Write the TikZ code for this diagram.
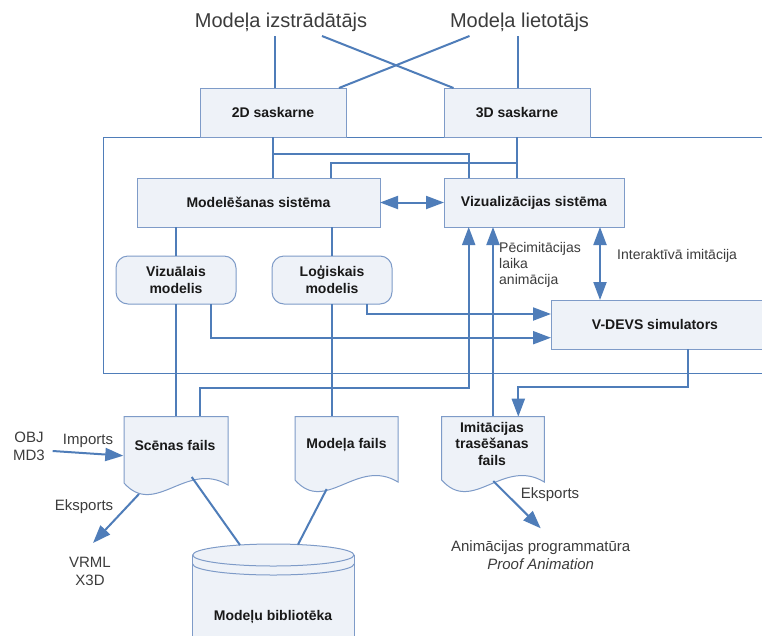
\documentclass[tikz,border=0pt]{standalone}
\usepackage{fontspec}
\setmainfont{Liberation Sans}
\usetikzlibrary{arrows.meta,calc}

\definecolor{linec}{RGB}{79,125,185}
\definecolor{boxline}{RGB}{126,155,200}
\definecolor{boxfill}{RGB}{238,242,248}
\definecolor{labelc}{RGB}{60,60,60}

% document symbol: left x, width, top, left bottom, right bottom
\newcommand\mydoc[5]{%
  \filldraw[docshape] (#1,#3) -- ({#1+#2},#3) -- ({#1+#2},#5)
    .. controls ({#1+0.6*#2},{#5-25}) and ({#1+0.3*#2},{#4+35}) .. (#1,#4) -- cycle;}

\begin{document}
\begin{tikzpicture}[x=1pt,y=-1pt,
  conn/.style={draw=linec,line width=2pt},
  arr/.style={conn,-{Triangle[length=18pt,width=13pt]}},
  dblarr/.style={conn,{Triangle[length=18pt,width=13pt]}-{Triangle[length=18pt,width=13pt]}},
  box/.style={draw=boxline,fill=boxfill,line width=1pt,inner sep=0pt,outer sep=0pt,
    align=center,font=\bfseries\fontsize{14}{17}\selectfont,text=black!90},
  rbox/.style={box,rounded corners=12pt},
  docshape/.style={draw=boxline,fill=boxfill,line width=1pt},
  docarea/.style={inner sep=0pt,outer sep=0pt},
  doctext/.style={align=center,inner sep=0pt,font=\bfseries\fontsize{14}{16.5}\selectfont,text=black!90},
  actor/.style={text=labelc,inner sep=0pt,font=\fontsize{20}{24}\selectfont},
  lbl/.style={text=labelc,inner sep=0pt,align=center,font=\fontsize{15}{18}\selectfont},
  slbl/.style={text=labelc,inner sep=0pt,align=left,font=\fontsize{14}{16}\selectfont},
]
\useasboundingbox[fill=white] (0,0) rectangle (762,635);

% system frame (open to the right)
\draw[draw=linec,line width=1pt] (770,137) -- (103,137) -- (103,373) -- (770,373);

% actors
\node[actor] (dev) at (281,22) {Modeļa izstrādātājs};
\node[actor] (usr) at (519.5,22) {Modeļa lietotājs};

% boxes
\node[box,minimum width=146pt,minimum height=49pt] (s2d) at (273,112.5) {2D saskarne};
\node[box,minimum width=146pt,minimum height=49pt] (s3d) at (517,112.5) {3D saskarne};
\node[box,minimum width=243pt,minimum height=49pt] (ms) at (258.5,202.5) {Modelēšanas sistēma};
\node[box,minimum width=180pt,minimum height=49pt] (vs) at (534,202.5) {Vizualizācijas sistēma};
\node[rbox,minimum width=120pt,minimum height=48pt] (vm) at (176,280) {Vizuālais\\modelis};
\node[rbox,minimum width=120pt,minimum height=48pt] (lm) at (332,280) {Loģiskais\\modelis};
\node[box,minimum width=214pt,minimum height=49pt] (sim) at (658,324.5) {\hspace*{-6pt}V-DEVS simulators};

% areas of the document symbols
\node[docarea,minimum width=104pt,minimum height=66.3pt] (sfbox) at (176,449.85) {};
\node[docarea,minimum width=103pt,minimum height=63.3pt] (mfbox) at (346.5,448.35) {};
\node[docarea,minimum width=102.6pt,minimum height=63.3pt] (tfbox) at (493,448.35) {};

% actor links
\coordinate (devA) at (275,36);
\coordinate (devB) at (322,36);
\coordinate (usrA) at (469.5,36);
\coordinate (usrB) at (518,36);
\draw[conn] (devA) -- (devA |- s2d.north);
\draw[conn] (devB) -- ($(s3d.north west)+(9.5,0)$);
\draw[conn] (usrA) -- ($(s2d.north east)+(-7,0)$);
\draw[conn] (usrB) -- (usrB |- s3d.north);

% interfaces to systems
\draw[conn] (s2d.south) -- (s2d.south |- ms.north);
\draw[conn] ($(s2d.south)+(0,17)$) -| ($(vs.north west)+(24.7,0)$);
\draw[conn] (s3d.south) -- (s3d.south |- vs.north);
\draw[conn] ($(s3d.south)+(0,26)$) -| ($(ms.north west)+(193.6,0)$);
\draw[dblarr] (ms.east) -- (vs.west);

% models
\draw[conn] (vm.north |- ms.south) -- (vm.north);
\draw[conn] (vm.south) -- (vm.south |- sfbox.north);
\draw[conn] (lm.north |- ms.south) -- (lm.north);
\draw[conn] (lm.south) -- (lm.south |- mfbox.north);
\draw[arr] ($(lm.south west)+(95,0)$) |- ($(sim.west)+(0,-10.5)$);
\draw[arr] ($(vm.south west)+(95,0)$) |- ($(sim.west)+(0,13.2)$);

% visualisation inputs
\draw[arr] ($(sfbox.north west)+(76,0)$) -- ++(0,-29) -| ($(vs.south west)+(24.7,0)$);
\draw[arr] (tfbox.north) -- (tfbox.north |- vs.south);
\coordinate (iaTop) at ($(vs.south west)+(156,0)$);
\draw[dblarr] (iaTop) -- (iaTop |- sim.north);
\draw[arr] ($(sim.south west)+(136.5,0)$) -- ++(0,38) -| ($(tfbox.north)+(25.3,0)$);

\node[slbl,anchor=west] (pal) at (499,265) {Pēcimitācijas\\laika\\animācija};
\node[slbl,anchor=west] (ial) at (617,256) {Interaktīvā imitācija};

% document symbols
\mydoc{124}{104}{416.7}{483}{485}
\mydoc{295}{103}{416.7}{480}{482}
\mydoc{441.7}{102.6}{416.7}{480}{482}
\node[doctext] (sf) at (175,445.7) {Scēnas fails};
\node[doctext] (mf) at (346.5,445) {Modeļa fails};
\node[doctext] (tf) at (492,443.5) {Imitācijas\\trasēšanas\\fails};

% model library (cylinder)
\coordinate (libC) at (273.35,555);
\fill[boxfill] (192.7,555) rectangle (354,645);
\draw[boxline,line width=1pt] (192.7,555) -- (192.7,645) (354,555) -- (354,645);
\filldraw[docshape] (libC) ellipse [x radius=80.65pt, y radius=11pt];
\draw[boxline,line width=1pt] (192.7,564) arc[start angle=180,end angle=360,x radius=80.65pt,y radius=11pt];
\node[doctext] (lib) at (273,616.7) {Modeļu bibliotēka};

\coordinate (sfCrest) at (191.7,477);
\coordinate (mfTrough) at (326.7,489);
\draw[conn] (sfCrest) -- ($(libC)+(-33.35,-10)$);
\draw[conn] (mfTrough) -- ($(libC)+(24.65,-10.5)$);

% import and export
\node[lbl] (obj) at (29,446.5) {OBJ\\MD3};
\node[lbl] (imp) at (88,440.7) {Imports};
\coordinate (objEnd) at (52.7,451);
\draw[arr] (objEnd) -- ($(sfbox.west)+(-0.7,5.85)$);

\coordinate (sfTrough) at (139,494);
\node[lbl] (vrml) at (90,571) {VRML\\X3D};
\coordinate (vrmlTop) at (93,543);
\draw[arr] (sfTrough) -- (vrmlTop);
\node[lbl] (exl) at (84,507) {Eksports};

\coordinate (tfWave) at (493.3,481);
\coordinate (animTop) at (540.7,528.3);
\draw[arr] (tfWave) -- (animTop);
\node[lbl] (exr) at (550,495) {Eksports};
\node[lbl] (anim) at (540.7,554.8) {Animācijas programmatūra\\\itshape Proof Animation};
\end{tikzpicture}
\end{document}
